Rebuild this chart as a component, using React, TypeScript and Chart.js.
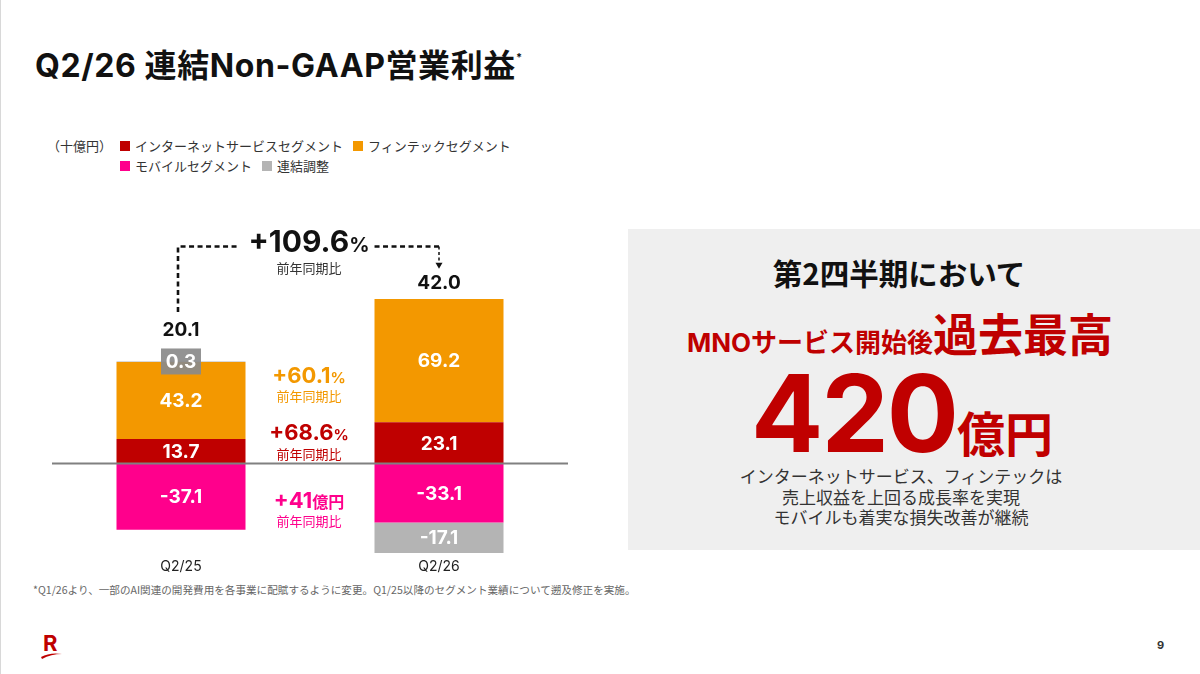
import React, { useEffect, useRef } from "react";
import { Chart, registerables } from "chart.js";

Chart.register(...registerables);

// ---------- data ----------
const categories = ["Q2/25", "Q2/26"];
const internetValues = [13.7, 23.1];
const fintechValues = [43.2, 69.2];
const mobileValues = [-37.1, -33.1];
const adjustmentValues = [0.3, -17.1];
const totalLabels = ["20.1", "42.0"];
const seriesNames = [
  "インターネットサービスセグメント",
  "フィンテックセグメント",
  "モバイルセグメント",
  "連結調整",
];
const seriesColors = ["#bf0000", "#f39800", "#ff008c", "#b4b4b4"];
const yoyValues = ["+60.1", "+68.6", "+41"];
const yoyUnits = ["%", "%", "億円"];
const yoyColors = ["#f39800", "#bf0000", "#ff008c"];
const totalYoyValue = "+109.6";
const totalYoyUnit = "%";
const yoyNote = "前年同期比";

const LATIN = "Inter, 'Noto Sans CJK JP', sans-serif";
const JP = "'Noto Sans CJK JP', 'Noto Sans', sans-serif";

type Part = { text: string; font: string };

function drawMixed(ctx: CanvasRenderingContext2D, parts: Part[], cx: number, baseline: number, color: string) {
  const widths = parts.map((p) => {
    ctx.font = p.font;
    return ctx.measureText(p.text).width;
  });
  const total = widths.reduce((a, b) => a + b, 0);
  let x = cx - total / 2;
  ctx.fillStyle = color;
  ctx.textAlign = "left";
  ctx.textBaseline = "alphabetic";
  parts.forEach((p, i) => {
    ctx.font = p.font;
    ctx.fillText(p.text, x, baseline);
    x += widths[i];
  });
  return total;
}

const annotationPlugin = {
  id: "annotations",
  afterDatasetsDraw(chart: any) {
    const { ctx, chartArea, scales } = chart;
    const y = scales.y;
    const yp = (v: number) => y.getPixelForValue(v);
    ctx.save();

    // zero line
    ctx.strokeStyle = "#808080";
    ctx.lineWidth = 2;
    ctx.beginPath();
    ctx.moveTo(chartArea.left, yp(0));
    ctx.lineTo(chartArea.right, yp(0));
    ctx.stroke();

    // segment labels
    const boxTops: number[] = [];
    chart.data.datasets.forEach((ds: any, di: number) => {
      const meta = chart.getDatasetMeta(di);
      meta.data.forEach((el: any, i: number) => {
        const v = ds.data[i] as number;
        const { x: bx, y: by, base } = el.getProps(["x", "y", "base"], true);
        if (Math.abs(v) >= 3) {
          ctx.font = `bold 19px ${LATIN}`;
          ctx.fillStyle = "#ffffff";
          ctx.textAlign = "center";
          ctx.textBaseline = "middle";
          ctx.fillText(v.toFixed(1), bx, (by + base) / 2 + 1);
        } else {
          const w = 40;
          const h = 26;
          ctx.fillStyle = "rgba(138,138,138,0.92)";
          ctx.fillRect(bx - w / 2, by - h / 2, w, h);
          ctx.font = `bold 19px ${LATIN}`;
          ctx.fillStyle = "#ffffff";
          ctx.textAlign = "center";
          ctx.textBaseline = "middle";
          ctx.fillText(v.toFixed(1), bx, by + 1);
          boxTops[i] = by - h / 2;
        }
      });
    });

    // totals
    const meta0 = chart.getDatasetMeta(0);
    categories.forEach((_, i) => {
      let pos = 0;
      chart.data.datasets.forEach((ds: any) => {
        const v = ds.data[i] as number;
        if (v > 0) pos += v;
      });
      const top = boxTops[i] !== undefined ? boxTops[i] - 12 : yp(pos) - 10;
      ctx.font = `bold 19px ${LATIN}`;
      ctx.fillStyle = "#111111";
      ctx.textAlign = "center";
      ctx.textBaseline = "alphabetic";
      ctx.fillText(totalLabels[i], meta0.data[i].x, top);
    });

    const x0 = meta0.data[0].x - 3;
    const x1 = meta0.data[1].x;
    const cx = (meta0.data[0].x + meta0.data[1].x) / 2 - 1;

    // total yoy text
    const tw = drawMixed(
      ctx,
      [
        { text: totalYoyValue, font: `bold 30px ${LATIN}` },
        { text: totalYoyUnit, font: `bold 20px ${LATIN}` },
      ],
      cx,
      yp(118.6),
      "#111111"
    );
    ctx.font = `13px ${JP}`;
    ctx.fillStyle = "#333333";
    ctx.textAlign = "center";
    ctx.textBaseline = "middle";
    ctx.fillText(yoyNote, cx, yp(109.6));

    // bracket
    const yb = yp(121.7);
    ctx.strokeStyle = "#111111";
    ctx.lineWidth = 2.6;
    ctx.setLineDash([5, 3.5]);
    ctx.beginPath();
    ctx.moveTo(x0, yp(85));
    ctx.lineTo(x0, yb);
    ctx.lineTo(cx - tw / 2 - 10, yb);
    ctx.stroke();
    ctx.beginPath();
    ctx.moveTo(cx + tw / 2 + 5, yb);
    ctx.lineTo(x1, yb);
    ctx.stroke();
    ctx.lineWidth = 1.5;
    ctx.setLineDash([3, 2.5]);
    ctx.beginPath();
    ctx.moveTo(x1, yb);
    ctx.lineTo(x1, yp(111.5));
    ctx.stroke();
    ctx.setLineDash([]);
    const tipY = yp(109.2);
    ctx.fillStyle = "#111111";
    ctx.beginPath();
    ctx.moveTo(x1 - 3.5, tipY - 6);
    ctx.lineTo(x1 + 3.5, tipY - 6);
    ctx.lineTo(x1, tipY);
    ctx.closePath();
    ctx.fill();

    // segment yoy annotations
    const baselines = [45.1, 13.2, -25];
    const notes = [37.9, 5.3, -32.2];
    yoyValues.forEach((val, i) => {
      drawMixed(
        ctx,
        [
          { text: val, font: `bold 22px ${LATIN}` },
          { text: yoyUnits[i], font: `bold ${yoyUnits[i] === "%" ? 15 : 16}px ${yoyUnits[i] === "%" ? LATIN : JP}` },
        ],
        cx,
        yp(baselines[i]),
        yoyColors[i]
      );
      ctx.font = `13px ${JP}`;
      ctx.fillStyle = yoyColors[i];
      ctx.textAlign = "center";
      ctx.textBaseline = "middle";
      ctx.fillText(yoyNote, cx, yp(notes[i]));
    });

    ctx.restore();
  },
};

function BarChart() {
  const ref = useRef<HTMLCanvasElement | null>(null);
  useEffect(() => {
    if (!ref.current) return;
    const datasets = [internetValues, fintechValues, mobileValues, adjustmentValues].map((d, i) => ({
      label: seriesNames[i],
      data: d,
      backgroundColor: seriesColors[i],
      borderWidth: 0,
      barPercentage: 0.5,
      categoryPercentage: 1.0,
      stack: "s",
    }));
    const chart = new Chart(ref.current, {
      type: "bar",
      data: { labels: categories, datasets },
      options: {
        animation: false,
        responsive: true,
        maintainAspectRatio: false,
        layout: { padding: 0 },
        plugins: { legend: { display: false }, tooltip: { enabled: false } },
        scales: {
          x: {
            stacked: true,
            grid: { display: false, drawTicks: false },
            border: { display: false },
            ticks: { color: "#222222", font: { size: 14, family: LATIN }, padding: 2 },
          },
          y: {
            stacked: true,
            display: false,
            min: -52,
            max: 150,
          },
        },
      },
      plugins: [annotationPlugin],
    });
    return () => chart.destroy();
  }, []);
  return (
    <div style={{ position: "absolute", left: 52, top: 196, width: 516, height: 381 }}>
      <canvas ref={ref} />
    </div>
  );
}

function LegendItem({ color, text }: { color: string; text: string }) {
  return (
    <span style={{ display: "inline-flex", alignItems: "center", marginRight: 10 }}>
      <span style={{ display: "inline-block", width: 10, height: 10, background: color, marginRight: 5 }} />
      <span>{text}</span>
    </span>
  );
}

export default function App() {
  return (
    <div
      style={{
        position: "absolute",
        left: 0,
        top: 0,
        width: 1200,
        height: 674,
        overflow: "hidden",
        background: "#ffffff",
        fontFamily: JP,
        color: "#222",
      }}
    >
      <div style={{ position: "absolute", left: 0, top: 0, width: 1, height: 674, background: "#d8d8d8" }} />
      <div
        style={{
          position: "absolute",
          left: 35,
          top: 41,
          fontSize: 32,
          fontWeight: 700,
          fontFamily: LATIN,
          color: "#111",
          lineHeight: "40px",
          letterSpacing: 0.6,
          whiteSpace: "nowrap",
        }}
      >
        Q2/26 連結Non-GAAP営業利益<span style={{ fontSize: 11, verticalAlign: "super", position: "relative", top: -4 }}>*</span>
      </div>

      {/* legend */}
      <div style={{ position: "absolute", left: 47, top: 136, fontSize: 13, color: "#333", lineHeight: "20px", whiteSpace: "nowrap" }}>
        <div style={{ display: "flex" }}>
          <span style={{ width: 73 }}>（十億円）</span>
          <LegendItem color={seriesColors[0]} text={seriesNames[0]} />
          <LegendItem color={seriesColors[1]} text={seriesNames[1]} />
        </div>
        <div style={{ display: "flex" }}>
          <span style={{ width: 73 }} />
          <LegendItem color={seriesColors[2]} text={seriesNames[2]} />
          <LegendItem color={seriesColors[3]} text={seriesNames[3]} />
        </div>
      </div>

      <BarChart />

      {/* right panel */}
      <div style={{ position: "absolute", left: 628, top: 229, width: 572, height: 321, background: "#efefef" }}>
        <div
          style={{
            position: "absolute",
            left: 0,
            width: 542,
            top: 27,
            textAlign: "center",
            fontSize: 29.5,
            fontWeight: 700,
            color: "#111",
            lineHeight: "32px",
          }}
        >
          第2四半期において
        </div>
        <div
          style={{
            position: "absolute",
            left: 0,
            width: 544,
            top: 80,
            textAlign: "center",
            fontWeight: 700,
            color: "#bf0000",
            lineHeight: "48px",
            fontSize: 45,
            whiteSpace: "nowrap",
          }}
        >
          <span style={{ fontSize: 26, fontFamily: LATIN }}>MNOサービス開始後</span>
          <span>過去最高</span>
        </div>
        <div
          style={{
            position: "absolute",
            left: 0,
            width: 548,
            top: 127,
            textAlign: "center",
            fontWeight: 700,
            color: "#c00000",
            lineHeight: "100px",
            fontSize: 107,
            whiteSpace: "nowrap",
          }}
        >
          <span style={{ fontFamily: LATIN, letterSpacing: -2 }}>420</span>
          <span style={{ fontSize: 48, fontFamily: JP }}>億円</span>
        </div>
        <div
          style={{
            position: "absolute",
            left: 0,
            width: 546,
            top: 237,
            textAlign: "center",
            fontSize: 17,
            color: "#333",
            lineHeight: "20.5px",
          }}
        >
          インターネットサービス、フィンテックは
          <br />
          売上収益を上回る成長率を実現
          <br />
          モバイルも着実な損失改善が継続
        </div>
      </div>

      {/* footnote */}
      <div style={{ position: "absolute", left: 33, top: 583, fontSize: 10.6, color: "#666", whiteSpace: "nowrap", lineHeight: "14px" }}>
        *Q1/26より、一部のAI関連の開発費用を各事業に配賦するように変更。Q1/25以降のセグメント業績について遡及修正を実施。
      </div>

      {/* logo */}
      <div style={{ position: "absolute", left: 40, top: 630 }}>
        <svg width="26" height="30" viewBox="0 0 26 30">
          <text x="3" y="21" fontFamily="Inter, sans-serif" fontWeight="700" fontSize="22" fill="#bf0000">
            R
          </text>
          <path d="M1 27 Q10 22 22 24 Q11 24 2 29 Z" fill="#bf0000" />
        </svg>
      </div>

      <div style={{ position: "absolute", left: 1157, top: 638, fontSize: 11, fontWeight: 700, color: "#333", fontFamily: LATIN }}>9</div>
    </div>
  );
}
